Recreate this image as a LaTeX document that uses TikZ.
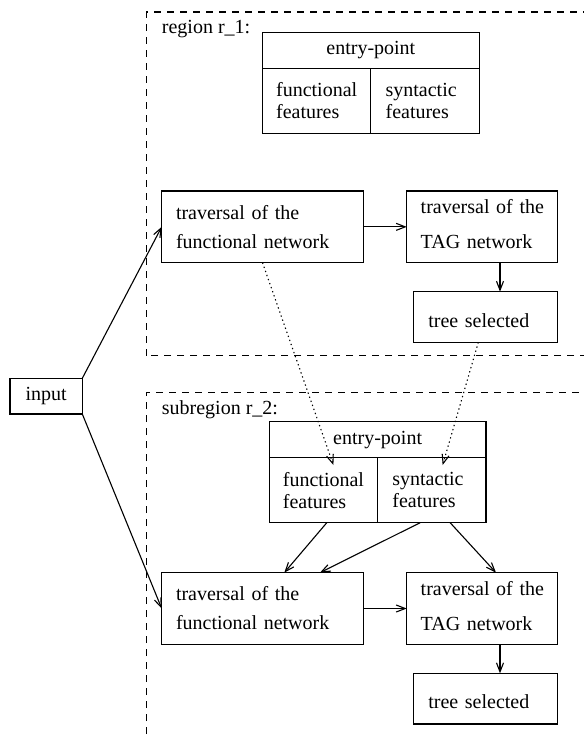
\documentclass[tikz,border=0pt]{standalone}
\usepackage{fontspec}
\setmainfont{Liberation Serif}
\usetikzlibrary{arrows.meta,calc}

\tikzset{
  box/.style={draw, rectangle, line width=1.2pt, inner ysep=0pt, outer sep=0pt,
    font=\fontsize{20}{24}\selectfont},
  funcbox/.style={box, minimum width=201.6pt, minimum height=71.7pt,
    inner xsep=14.3pt, text width=173pt, align=left,
    font=\fontsize{20}{29}\selectfont},
  tagbox/.style={box, minimum width=150.6pt, minimum height=71.7pt,
    inner xsep=14pt, text width=122.6pt, align=left, text depth=41pt,
    font=\fontsize{20}{35}\selectfont},
  treebox/.style={box, minimum width=144pt, minimum height=50.6pt,
    inner xsep=15pt, text width=114pt, align=left, text height=20.6pt},
  epbox/.style={box, minimum width=216.5pt, minimum height=36pt, inner xsep=0pt},
  featbox/.style={box, minimum height=65pt, anchor=north west, align=left,
    font=\fontsize{20}{21.7}\selectfont},
  region/.style={line width=1.1pt, dash pattern=on 7pt off 6pt},
  arr/.style={line width=1.1pt, -{Straight Barb[length=9pt,width=7pt]}},
  dotarr/.style={arr, dash pattern=on 1.3pt off 3pt},
  label/.style={anchor=base west, inner sep=0pt, font=\fontsize{20}{24}\selectfont}
}

\begin{document}
\begin{tikzpicture}[x=1pt,y=-1pt]
\useasboundingbox (0,0) rectangle (584,737);
\clip (0,0) rectangle (584,737);

% dashed regions
\draw[region] (146.7,355.7) -- (146.7,12) -- (600,12);
\draw[region] (600,355.7) -- (146.7,355.7);
\draw[region] (146.7,760) -- (146.7,392.7) -- (600,392.7);

\node[label] (lab1) at (161.7,33.3) {region r\_1:};
\node[label] (lab2) at (161.7,414) {subregion r\_2:};

% input
\node[box, minimum width=72.3pt, minimum height=35.7pt] (in) at (46.15,396.15) {input};

% region r_1
\node[epbox] (ep1) at (370.85,50.3) {entry-point};
\node[featbox, minimum width=108pt, inner xsep=13.5pt, text width=81pt]
  (ff1) at (ep1.south west) {\mbox{functional}\\features};
\node[featbox, minimum width=108.5pt, inner xsep=15pt, text width=78.5pt]
  (sf1) at (ff1.north east) {\mbox{syntactic}\\features};

\node[funcbox] (fn1) at (262.5,226.85) {\mbox{traversal of the}\\\mbox{functional network}};
\node[tagbox] (tg1) at (482,226.85) {\mbox{traversal of the}\\\mbox{TAG network}};
\node[treebox] (tr1) at (485.3,317) {\mbox{tree selected}};

% subregion r_2
\node[epbox] (ep2) at (377.65,439.7) {entry-point};
\node[featbox, minimum width=108pt, inner xsep=13.5pt, text width=81pt]
  (ff2) at (ep2.south west) {\mbox{functional}\\features};
\node[featbox, minimum width=108.5pt, inner xsep=15pt, text width=78.5pt]
  (sf2) at (ff2.north east) {\mbox{syntactic}\\features};

\node[funcbox] (fn2) at (262.5,608.5) {\mbox{traversal of the}\\\mbox{functional network}};
\node[tagbox] (tg2) at (482,608.5) {\mbox{traversal of the}\\\mbox{TAG network}};
\node[treebox] (tr2) at (485.3,698.65) {\mbox{tree selected}};

% connectors
\draw[arr] (in.north east) -- (fn1.west);
\draw[arr] (in.south east) -- (fn2.west);

\draw[arr] (fn1.east) -- (tg1.west);
\draw[arr] ([xshift=18pt]tg1.south) -- ([xshift=18pt]tg1.south |- tr1.north);

\draw[arr] (fn2.east) -- (tg2.west);
\draw[arr] ([xshift=18pt]tg2.south) -- ([xshift=18pt]tg2.south |- tr2.north);

\draw[dotarr] (fn1.south) -- ([xshift=10pt,yshift=-7.3pt]ff2.north);
\draw[dotarr] ([xshift=-7pt]tr1.south) -- ([xshift=11pt,yshift=-7.3pt]sf2.north);

\draw[arr] ([xshift=3.4pt]ff2.south) -- ([xshift=21.8pt]fn2.north);
\draw[arr] ([xshift=-11.5pt]sf2.south) -- ([xshift=57.5pt]fn2.north);
\draw[arr] ([xshift=18.5pt]sf2.south) -- ([xshift=14pt]tg2.north);
\end{tikzpicture}
\end{document}
